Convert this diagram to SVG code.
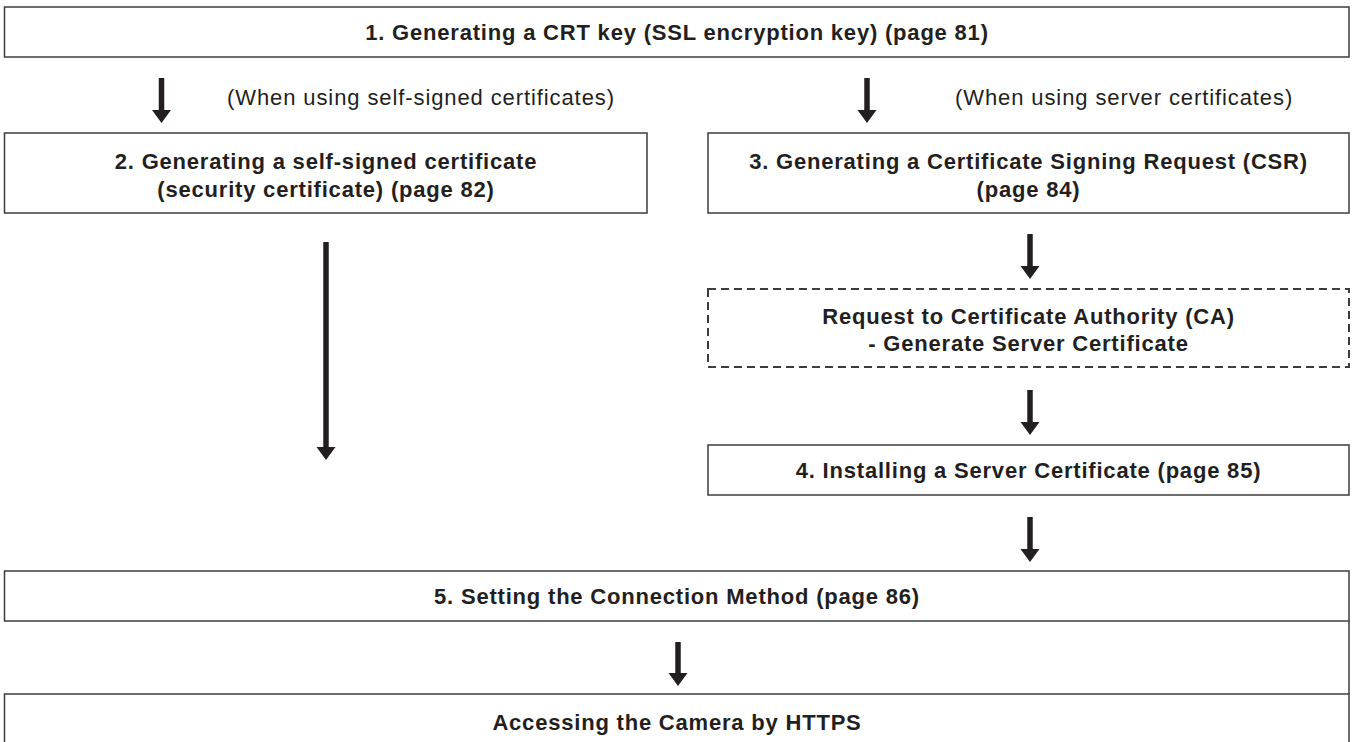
<svg xmlns="http://www.w3.org/2000/svg" width="1354" height="742" viewBox="0 0 1354 742">
<style>
.box{fill:#fff;stroke:#3c3c3c;stroke-width:1.5}
.dash{fill:#fff;stroke:#3c3c3c;stroke-width:2;stroke-dasharray:8,5}
.t{font-family:"Liberation Sans",Arial,sans-serif;font-weight:bold;font-size:22px;letter-spacing:0.8px;fill:#231f20;text-anchor:middle}
.lbl{font-family:"Liberation Sans",Arial,sans-serif;font-size:22px;letter-spacing:0.9px;fill:#231f20}
.shaft{stroke:#231f20;stroke-width:5.5}
.head{fill:#231f20}
</style>
<rect width="1354" height="742" fill="#fff"/>
<g id="n1"><rect class="box" x="4.5" y="7" width="1344.5" height="50"/><text class="t" x="677" y="40">1. Generating a CRT key (SSL encryption key) (page 81)</text></g>
<g id="n2"><rect class="box" x="4.5" y="133" width="642.5" height="80"/><text class="t" x="326" y="169">2. Generating a self-signed certificate</text><text class="t" x="326" y="197">(security certificate) (page 82)</text></g>
<g id="n3"><rect class="box" x="708" y="133" width="641" height="80"/><text class="t" x="1028.5" y="169">3. Generating a Certificate Signing Request (CSR)</text><text class="t" x="1028.5" y="197">(page 84)</text></g>
<g id="nca"><rect class="dash" x="708" y="289" width="641" height="78"/><text class="t" x="1028.5" y="324">Request to Certificate Authority (CA)</text><text class="t" x="1028.5" y="351">- Generate Server Certificate</text></g>
<g id="n4"><rect class="box" x="708" y="445" width="641" height="50"/><text class="t" x="1028.5" y="478">4. Installing a Server Certificate (page 85)</text></g>
<g id="n5"><rect class="box" x="4.5" y="571" width="1344.5" height="50"/><text class="t" x="677" y="604">5. Setting the Connection Method (page 86)</text></g>
<g id="n6"><rect class="box" x="4.5" y="694" width="1344.5" height="60"/><text class="t" x="677" y="730">Accessing the Camera by HTTPS</text><line class="box" x1="1349" y1="621" x2="1349" y2="694"/></g>
<g id="labels">
<text class="lbl" x="227" y="105">(When using self-signed certificates)</text>
<text class="lbl" x="955" y="105">(When using server certificates)</text>
</g>
<g id="connectors">
<line class="shaft" x1="161.5" y1="78" x2="161.5" y2="112"/><polygon class="head" points="152,110 171,110 161.5,123"/>
<line class="shaft" x1="867" y1="78" x2="867" y2="112"/><polygon class="head" points="857.5,110 876.5,110 867,123"/>
<line class="shaft" x1="326" y1="242" x2="326" y2="449"/><polygon class="head" points="316.5,447 335.5,447 326,460"/>
<line class="shaft" x1="1030" y1="234" x2="1030" y2="268"/><polygon class="head" points="1020.5,266 1039.5,266 1030,279"/>
<line class="shaft" x1="1030" y1="390" x2="1030" y2="424"/><polygon class="head" points="1020.5,422 1039.5,422 1030,435"/>
<line class="shaft" x1="1030" y1="517" x2="1030" y2="551"/><polygon class="head" points="1020.5,549 1039.5,549 1030,562"/>
<line class="shaft" x1="678" y1="642" x2="678" y2="675"/><polygon class="head" points="668.5,673 687.5,673 678,686"/>
</g>
</svg>
